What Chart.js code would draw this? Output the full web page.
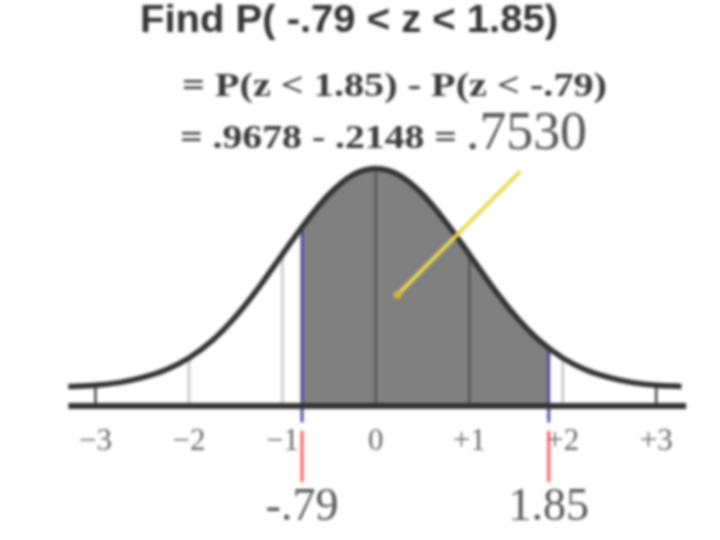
<!DOCTYPE html>
<html>
<head>
<meta charset="utf-8">
<script src="https://cdn.jsdelivr.net/npm/chart.js@4/dist/chart.umd.min.js"></script>
<style>
  html, body { margin: 0; background: #fff; }
  #wrap { width: 720px; height: 540px; }
  canvas { filter: blur(1.6px); }
</style>
</head>
<body>
<div id="wrap"><canvas id="chart"></canvas></div>
<script>
// normal curve (raised a little above the axis)
const curveZ = [-3.29, -3.0, -2.75, -2.5, -2.25, -2.0, -1.75, -1.5, -1.25, -1.0, -0.75, -0.5, -0.25, 0,
  0.25, 0.5, 0.75, 1.0, 1.25, 1.5, 1.75, 2.0, 2.25, 2.5, 2.75, 3.0, 3.27];
const curveY = [0.036, 0.038, 0.043, 0.052, 0.066, 0.088, 0.120, 0.164, 0.218, 0.278, 0.337, 0.388, 0.423, 0.435,
  0.423, 0.388, 0.337, 0.278, 0.218, 0.164, 0.120, 0.088, 0.066, 0.052, 0.043, 0.038, 0.036];

// shaded area between the two bounds
const shadeZ = [-0.79, -0.75, -0.5, -0.25, 0, 0.25, 0.5, 0.75, 1.0, 1.25, 1.5, 1.75, 1.85];
const shadeY = [0.328, 0.337, 0.388, 0.423, 0.435, 0.423, 0.388, 0.337, 0.278, 0.218, 0.164, 0.120, 0.106];

const tickValues = [-3, -2, -1, 0, 1, 2, 3];
const tickLabels = ["\u22123", "\u22122", "\u22121", "0", "+1", "+2", "+3"];
const guideTop = [0.038, 0.088, 0.278, 0.435, 0.278, 0.088, 0.038];
const guideColor = ["#444", "#c4c4c4", "#c4c4c4", "#555", "#555", "#c4c4c4", "#444"];

const bounds = [-0.79, 1.85];
const boundTop = [0.328, 0.106];
const boundLabels = ["-.79", "1.85"];

const axisZ = [-3.29, 3.32];
const pointerZ = [0.233, 1.545];
const pointerY = [0.204, 0.430];

const pts = (xs, ys) => xs.map((x, i) => ({ x: x, y: ys[i] }));

const datasets = [];

datasets.push({
  data: pts(shadeZ, shadeY),
  borderWidth: 0,
  backgroundColor: "#808080",
  fill: "origin",
  cubicInterpolationMode: "monotone",
  order: 10
});

tickValues.forEach((v, i) => {
  datasets.push({
    data: [{ x: v, y: 0 }, { x: v, y: guideTop[i] }],
    borderColor: guideColor[i],
    borderWidth: 2.5,
    order: 6
  });
});

bounds.forEach((v, i) => {
  datasets.push({
    data: [{ x: v, y: -0.03 }, { x: v, y: boundTop[i] }],
    borderColor: "#4b4b9c",
    borderWidth: 3,
    order: 4
  });
  datasets.push({
    data: [{ x: v, y: -0.045 }, { x: v, y: -0.139 }],
    borderColor: "#ff5a5a",
    borderWidth: 3,
    order: 4
  });
});

datasets.push({
  data: axisZ.map(x => ({ x: x, y: 0 })),
  borderColor: "#333",
  borderWidth: 6,
  order: 3
});

datasets.push({
  data: pts(curveZ, curveY),
  borderColor: "#333",
  borderWidth: 5.5,
  cubicInterpolationMode: "monotone",
  order: 2
});

datasets.push({
  data: pts(pointerZ, pointerY),
  borderColor: "#ecd850",
  borderWidth: 4,
  pointRadius: [4, 0],
  pointBackgroundColor: "#d4b43a",
  pointBorderWidth: 0,
  order: 1
});

// draw text squeezed/stretched to a given width
function fitText(ctx, text, x, y, width) {
  const w = ctx.measureText(text).width;
  ctx.save();
  ctx.translate(x, y);
  ctx.scale(width / w, 1);
  ctx.fillText(text, 0, 0);
  ctx.restore();
}

const textPlugin = {
  id: "texts",
  afterDatasetsDraw(chart) {
    const ctx = chart.ctx;
    const xs = chart.scales.x, ys = chart.scales.y;
    ctx.save();
    ctx.textBaseline = "middle";
    ctx.textAlign = "center";

    ctx.fillStyle = "#666";
    ctx.font = "31px 'Liberation Serif', serif";
    tickValues.forEach((v, i) => {
      ctx.fillText(tickLabels[i], xs.getPixelForValue(v), ys.getPixelForValue(-0.065));
    });

    ctx.fillStyle = "#555";
    ctx.font = "46px 'Liberation Serif', serif";
    bounds.forEach((v, i) => {
      ctx.fillText(boundLabels[i], xs.getPixelForValue(v), ys.getPixelForValue(-0.186));
    });

    ctx.textAlign = "left";
    ctx.fillStyle = "#333";
    ctx.font = "bold 38px 'Liberation Sans', Arial, sans-serif";
    fitText(ctx, "Find P( -.79 < z < 1.85)", 140, 22, 418);

    ctx.fillStyle = "#3a3a3a";
    ctx.font = "bold 34px 'Liberation Serif', serif";
    fitText(ctx, "= P(z < 1.85) - P(z < -.79)", 182, 87, 425);
    fitText(ctx, "= .9678 - .2148 =", 180, 139, 277);
    ctx.fillStyle = "#555";
    ctx.font = "54px 'Liberation Serif', serif";
    fitText(ctx, ".7530", 466, 135, 121);
    ctx.restore();
  }
};

new Chart(document.getElementById("chart"), {
  type: "scatter",
  data: { datasets: datasets },
  options: {
    responsive: true,
    maintainAspectRatio: false,
    animation: false,
    showLine: true,
    layout: { padding: 0 },
    elements: { point: { radius: 0 }, line: { borderCapStyle: "butt" } },
    plugins: { legend: { display: false }, tooltip: { enabled: false } },
    scales: {
      x: { type: "linear", display: false, min: -3.979, max: 3.640 },
      y: { type: "linear", display: false, min: -0.238, max: 0.7365 }
    }
  },
  plugins: [textPlugin]
});
</script>
</body>
</html>
